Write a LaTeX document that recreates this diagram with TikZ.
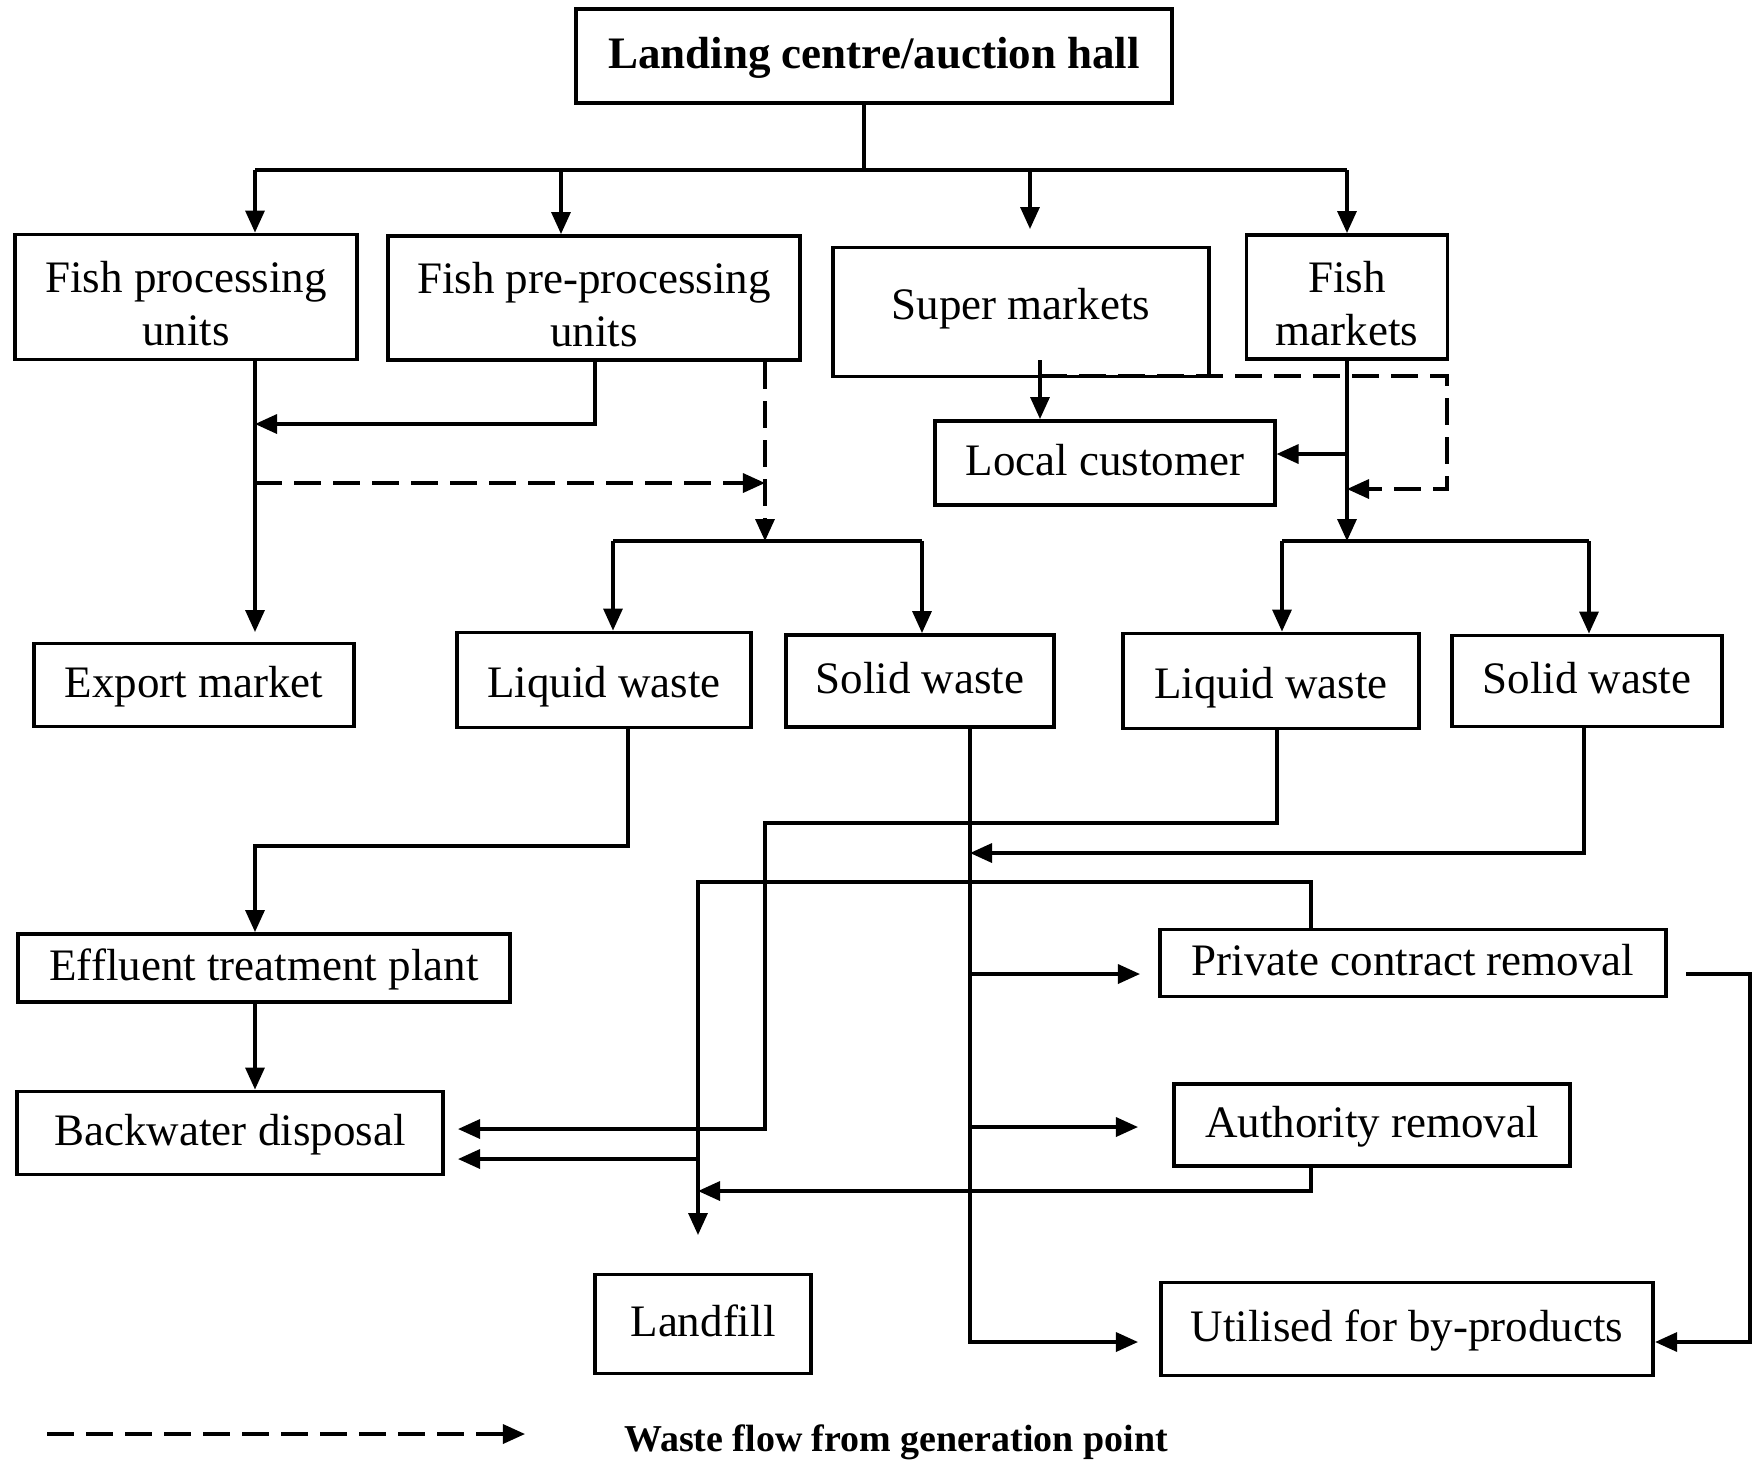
\documentclass[tikz,border=0pt]{standalone}
\usepackage{fontspec}
\setmainfont{Liberation Serif}
\usetikzlibrary{arrows.meta,calc}

\begin{document}
\begin{tikzpicture}[x=0.01cm,y=-0.01cm,line join=miter,
  box/.style={draw,line width=1.1pt,inner sep=0pt,align=center,
    font=\fontsize{12.8}{15}\selectfont},
  one/.style={text height=0.9em,text depth=0.19em},
  two/.style={text height=27.7pt,text depth=0.2pt},
  flow/.style={line width=0.95pt},
  arr/.style={flow,-{Triangle[length=0.22cm,width=0.19cm]}},
  waste/.style={arr,dash pattern=on 0.27cm off 0.12cm}]

\useasboundingbox (0,0) rectangle (1753,1465);

% --- boxes ---
\node[box,one,minimum width=5.96cm,minimum height=0.94cm,
  font=\bfseries\fontsize{12.8}{15}\selectfont] (land) at (874,56) {Landing centre/auction hall};

\node[box,two,minimum width=3.42cm,minimum height=1.25cm] (fpu)  at (186,297)  {Fish processing\\units};
\node[box,two,minimum width=4.11cm,minimum height=1.24cm] (fppu) at (594,298)  {Fish pre-processing\\units};
\node[box,one,text height=0.6em,text depth=0.2em,
  minimum width=3.76cm,minimum height=1.29cm] (sm)   at (1021,312) {Super markets};
\node[box,two,minimum width=2.01cm,minimum height=1.24cm] (fm)   at (1347,297) {Fish\\markets};
\node[box,one,minimum width=3.39cm,minimum height=0.84cm] (lc)   at (1105,463) {Local customer};

\node[box,one,minimum width=3.19cm,minimum height=0.83cm] (exp)  at (194,685)  {Export market};
\node[box,one,text height=1.1em,text depth=0.12em,
  minimum width=2.94cm,minimum height=0.95cm] (lwa)  at (604,680)  {Liquid waste};
\node[box,one,minimum width=2.68cm,minimum height=0.92cm] (swa)  at (920,681)  {Solid waste};
\node[box,one,text height=1.1em,text depth=0.12em,
  minimum width=2.95cm,minimum height=0.95cm] (lwb)  at (1271,681) {Liquid waste};
\node[box,one,minimum width=2.70cm,minimum height=0.91cm] (swb)  at (1587,681) {Solid waste};

\node[box,one,minimum width=4.92cm,minimum height=0.68cm] (etp)  at (264,968)  {Effluent treatment plant};
\node[box,one,minimum width=4.25cm,minimum height=0.83cm] (bwd)  at (230,1133) {Backwater disposal};
\node[box,one,minimum width=2.16cm,minimum height=0.99cm] (lf)   at (703,1324) {Landfill};
\node[box,one,minimum width=5.05cm,minimum height=0.67cm] (pcr)  at (1413,963) {Private contract removal};
\node[box,one,minimum width=3.96cm,minimum height=0.82cm] (ar)   at (1372,1125) {Authority removal};
\node[box,one,minimum width=4.92cm,minimum height=0.93cm] (ubp)  at (1407,1329) {Utilised for by-products};

% --- from the landing centre ---
\coordinate (hub)  at (864,170);
\coordinate (hubA) at (255,170);
\coordinate (hubB) at (561,170);
\coordinate (hubC) at (1030,170);
\coordinate (hubD) at (1347,170);
\coordinate (smIn) at (1030,229);

\draw[flow] (land.south -| hub) -- (hub);
\draw[flow] (hubA) -- (hubD);
\draw[arr] (hubA) -- (fpu.north -| hubA);
\draw[arr] (hubB) -- (fppu.north -| hubB);
\draw[arr] (hubC) -- (smIn);
\draw[arr] (hubD) -- (fm.north);

% --- processing units ---
\coordinate (expIn)   at (255,632);
\coordinate (ppA)     at (595,424);
\coordinate (wA)      at (255,483);
\coordinate (wB)      at (765,483);
\coordinate (splitA)  at (765,541);
\coordinate (splitAL) at (613,541);
\coordinate (splitAR) at (922,541);

\draw[arr] (fpu.south -| hubA) -- (expIn);
\draw[arr] (fppu.south -| ppA) -- (ppA) -- (ppA -| hubA);
\draw[waste] (wA) -- (wB);
\draw[waste] (fppu.south -| splitA) -- (splitA);
\draw[flow] (splitAL) -- (splitAR);
\draw[arr] (splitAL) -- (lwa.north -| splitAL);
\draw[arr] (splitAR) -- (swa.north -| splitAR);

% --- markets ---
\coordinate (smOut)   at (1040,360);
\coordinate (smW)     at (1040,376);
\coordinate (smE)     at (1447,376);
\coordinate (fmW)     at (1447,489);
\coordinate (lcIn)    at (1347,454);
\coordinate (splitB)  at (1347,541);
\coordinate (splitBL) at (1282,541);
\coordinate (splitBR) at (1589,541);

\draw[arr] (smOut) -- (lc.north -| smOut);
\draw[waste] (smW) -- (smE) -- (fmW) -- (fmW -| fm.south);
\draw[arr] (fm.south) -- (splitB);
\draw[arr] (lcIn) -- (lcIn -| lc.east);
\draw[flow] (splitBL) -- (splitBR);
\draw[arr] (splitBL) -- (lwb.north -| splitBL);
\draw[arr] (splitBR) -- (swb.north -| splitBR);

% --- liquid waste ---
\coordinate (lwaB)    at (628,846);
\coordinate (lwbB)    at (1277,823);
\coordinate (lwbC)    at (765,823);
\coordinate (bwdInA)  at (458,1129);

\draw[arr] (lwa.south -| lwaB) -- (lwaB) -- (lwaB -| hubA) -- (etp.north -| hubA);
\draw[arr] (etp.south -| hubA) -- (bwd.north -| hubA);
\draw[arr] (lwb.south -| lwbB) -- (lwbB) -- (lwbC) -- (lwbC |- bwdInA) -- (bwdInA);

% --- solid waste ---
\coordinate (swT)     at (970,1342);
\coordinate (ubpIn)   at (1138,1342);
\coordinate (pcrL)    at (970,974);
\coordinate (pcrIn)   at (1140,974);
\coordinate (arL)     at (970,1127);
\coordinate (arIn)    at (1138,1127);
\coordinate (swbB)    at (1584,853);

\draw[arr] (swa.south -| swT) -- (swT) -- (ubpIn);
\draw[arr] (pcrL) -- (pcrIn);
\draw[arr] (arL) -- (arIn);
\draw[arr] (swb.south -| swbB) -- (swbB) -- (swbB -| swT);

% --- removal ---
\coordinate (pcrT)    at (1311,882);
\coordinate (lfA)     at (698,882);
\coordinate (lfIn)    at (698,1235);
\coordinate (bwdB)    at (698,1159);
\coordinate (bwdInB)  at (458,1159);
\coordinate (arB)     at (1311,1191);
\coordinate (pcrR)    at (1686,974);
\coordinate (edgeT)   at (1750,974);
\coordinate (edgeB)   at (1750,1342);

\draw[arr] (pcr.north -| pcrT) -- (pcrT) -- (lfA) -- (lfIn);
\draw[arr] (bwdB) -- (bwdInB);
\draw[arr] (ar.south -| arB) -- (arB) -- (arB -| lfA);
\draw[arr] (pcrR) -- (edgeT) -- (edgeB) -- (edgeB -| ubp.east);

% --- legend ---
\coordinate (legA) at (47,1434);
\coordinate (legB) at (525,1434);
\draw[waste] (legA) -- (legB);
\node[font=\bfseries\fontsize{10.8}{13}\selectfont] (legtxt) at (896,1442) {Waste flow from generation point};

\end{tikzpicture}
\end{document}
